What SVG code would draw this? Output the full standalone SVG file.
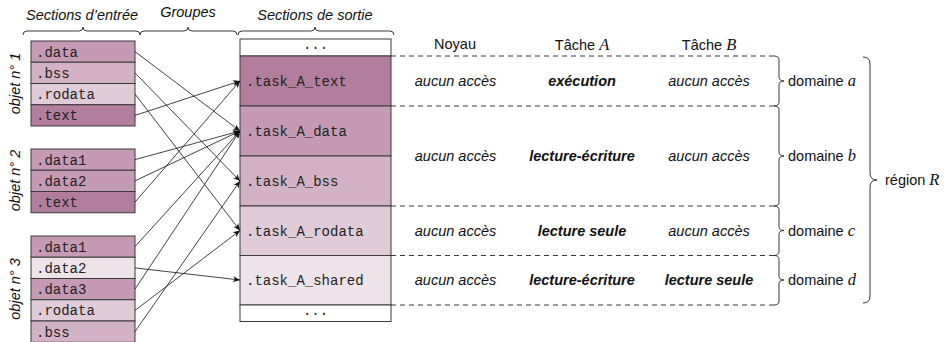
<svg xmlns="http://www.w3.org/2000/svg" width="951" height="342" viewBox="0 0 951 342">
<style>
.bx{stroke:#3a3a3a;stroke-width:1}
.c-text{fill:#b17f9d}
.c-data{fill:#c59ab4}
.c-bss{fill:#d4b2c6}
.c-ro{fill:#e2cbd8}
.c-sh{fill:#efe3ea}
.mono{font-family:"Liberation Mono",monospace;font-size:14px;fill:#222}
.sans{font-family:"Liberation Sans",Arial,sans-serif;font-size:14.5px;fill:#111}
.it{font-style:italic}
.bi{font-style:italic;font-weight:bold}
.math{font-family:"Liberation Serif",serif;font-style:italic;font-size:16.5px}
.dash{stroke:#222;stroke-width:0.9;stroke-dasharray:5 4;fill:none}
.brace{stroke:#222;stroke-width:0.9;fill:none}
.conn line{stroke:#111;stroke-width:0.8;marker-end:url(#ah)}
</style>
<defs>
<marker id="ah" markerUnits="userSpaceOnUse" markerWidth="10" markerHeight="10" viewBox="-8 -4 10 8" refX="0" refY="0" orient="auto">
<path d="M0,0 L-7,-3 L-5,0 L-7,3 z" fill="#111"/>
</marker>
</defs>
<rect width="951" height="342" fill="#fff"/>

<!-- top labels -->
<g id="top-labels">
<text class="sans it" x="82" y="20" text-anchor="middle">Sections d’entrée</text>
<text class="sans it" x="188" y="17" text-anchor="middle">Groupes</text>
<text class="sans it" x="315" y="20" text-anchor="middle">Sections de sortie</text>
<path class="brace" d="M23,35 Q23,31 27,31 L79,31 Q83,31 83,27 Q83,31 87,31 L136,31 Q140,31 140,35"/>
<path class="brace" d="M140,35 Q140,31 144,31 L184,31 Q188,31 188,27 Q188,31 192,31 L233,31 Q237,31 237,35"/>
<path class="brace" d="M238,35 Q238,31 242,31 L311,31 Q315,31 315,27 Q315,31 319,31 L390,31 Q394,31 394,35"/>
</g>

<!-- object labels -->
<g id="obj-labels">
<text class="sans it" transform="translate(20,83.5) rotate(-90)" text-anchor="middle">objet n° 1</text>
<text class="sans it" transform="translate(20,180.5) rotate(-90)" text-anchor="middle">objet n° 2</text>
<text class="sans it" transform="translate(20,289) rotate(-90)" text-anchor="middle">objet n° 3</text>
</g>

<!-- object 1 -->
<g id="obj1">
<rect class="bx c-data" x="31" y="41" width="104" height="21.25"/>
<rect class="bx c-bss" x="31" y="62.25" width="104" height="21.25"/>
<rect class="bx c-ro" x="31" y="83.5" width="104" height="21.25"/>
<rect class="bx c-text" x="31" y="104.75" width="104" height="21.25"/>
<text class="mono" x="36" y="56.5">.data</text>
<text class="mono" x="36" y="77.8">.bss</text>
<text class="mono" x="36" y="99">.rodata</text>
<text class="mono" x="36" y="120.3">.text</text>
</g>

<!-- object 2 -->
<g id="obj2">
<rect class="bx c-data" x="31" y="149" width="104" height="21.25"/>
<rect class="bx c-data" x="31" y="170.25" width="104" height="21.25"/>
<rect class="bx c-text" x="31" y="191.5" width="104" height="21.25"/>
<text class="mono" x="36" y="164.5">.data1</text>
<text class="mono" x="36" y="185.8">.data2</text>
<text class="mono" x="36" y="207">.text</text>
</g>

<!-- object 3 -->
<g id="obj3">
<rect class="bx c-data" x="31" y="236" width="104" height="21.25"/>
<rect class="bx c-sh" x="31" y="257.25" width="104" height="21.25"/>
<rect class="bx c-data" x="31" y="278.5" width="104" height="21.25"/>
<rect class="bx c-ro" x="31" y="299.75" width="104" height="21.25"/>
<rect class="bx c-bss" x="31" y="321" width="104" height="21.25"/>
<text class="mono" x="36" y="251.5">.data1</text>
<text class="mono" x="36" y="272.8">.data2</text>
<text class="mono" x="36" y="294">.data3</text>
<text class="mono" x="36" y="315.3">.rodata</text>
<text class="mono" x="36" y="336.5">.bss</text>
</g>

<!-- output sections -->
<g id="out">
<rect class="bx" fill="#fff" x="240" y="39" width="151" height="17"/>
<rect class="bx c-text" x="240" y="56" width="151" height="50"/>
<rect class="bx c-data" x="240" y="106" width="151" height="50"/>
<rect class="bx c-bss" x="240" y="156" width="151" height="50"/>
<rect class="bx c-ro" x="240" y="206" width="151" height="49.5"/>
<rect class="bx c-sh" x="240" y="255.5" width="151" height="49.5"/>
<rect class="bx" fill="#fff" x="240" y="305" width="151" height="16.5"/>
<text class="mono" x="315.5" y="49" text-anchor="middle">...</text>
<text class="mono" x="246" y="86">.task_A_text</text>
<text class="mono" x="246" y="136">.task_A_data</text>
<text class="mono" x="246" y="186">.task_A_bss</text>
<text class="mono" x="246" y="235.5">.task_A_rodata</text>
<text class="mono" x="246" y="285">.task_A_shared</text>
<text class="mono" x="315.5" y="315" text-anchor="middle">...</text>
</g>

<!-- connectors -->
<g id="connectors" class="conn">
<line x1="135" y1="51.6" x2="240" y2="131"/>
<line x1="135" y1="72.9" x2="240" y2="181"/>
<line x1="135" y1="94.1" x2="240" y2="230.5"/>
<line x1="135" y1="115.4" x2="240" y2="81"/>
<line x1="135" y1="159.6" x2="240" y2="131"/>
<line x1="135" y1="180.9" x2="240" y2="131"/>
<line x1="135" y1="202.1" x2="240" y2="81"/>
<line x1="135" y1="246.6" x2="240" y2="131"/>
<line x1="135" y1="267.9" x2="240" y2="280"/>
<line x1="135" y1="289.1" x2="240" y2="131"/>
<line x1="135" y1="310.4" x2="240" y2="230.5"/>
<line x1="135" y1="331.6" x2="240" y2="181"/>
</g>

<!-- table -->
<g id="table">
<text class="sans" x="455" y="49" text-anchor="middle">Noyau</text>
<text class="sans" x="582" y="50" text-anchor="middle">Tâche <tspan class="math">A</tspan></text>
<text class="sans" x="709" y="50" text-anchor="middle">Tâche <tspan class="math">B</tspan></text>
<line class="dash" x1="391" y1="56" x2="774" y2="56"/>
<line class="dash" x1="391" y1="106" x2="774" y2="106"/>
<line class="dash" x1="391" y1="206" x2="774" y2="206"/>
<line class="dash" x1="391" y1="255.5" x2="774" y2="255.5"/>
<line class="dash" x1="391" y1="305" x2="774" y2="305"/>

<text class="sans it" x="455.5" y="86" text-anchor="middle">aucun accès</text>
<text class="sans bi" x="582" y="86" text-anchor="middle">exécution</text>
<text class="sans it" x="709" y="86" text-anchor="middle">aucun accès</text>

<text class="sans it" x="455.5" y="161" text-anchor="middle">aucun accès</text>
<text class="sans bi" x="582" y="161" text-anchor="middle">lecture-écriture</text>
<text class="sans it" x="709" y="161" text-anchor="middle">aucun accès</text>

<text class="sans it" x="455.5" y="235.5" text-anchor="middle">aucun accès</text>
<text class="sans bi" x="582" y="235.5" text-anchor="middle">lecture seule</text>
<text class="sans it" x="709" y="235.5" text-anchor="middle">aucun accès</text>

<text class="sans it" x="455.5" y="285" text-anchor="middle">aucun accès</text>
<text class="sans bi" x="582" y="285" text-anchor="middle">lecture-écriture</text>
<text class="sans bi" x="709" y="285" text-anchor="middle">lecture seule</text>
</g>

<!-- domain braces -->
<g id="domains">
<path class="brace" d="M774,56 Q779,56 779,60 L779,77 Q779,81 784,81 Q779,81 779,85 L779,102 Q779,106 774,106"/>
<path class="brace" d="M774,106 Q779,106 779,110 L779,152 Q779,156 784,156 Q779,156 779,160 L779,202 Q779,206 774,206"/>
<path class="brace" d="M774,206 Q779,206 779,210 L779,226.5 Q779,230.5 784,230.5 Q779,230.5 779,234.5 L779,251.5 Q779,255.5 774,255.5"/>
<path class="brace" d="M774,255.5 Q779,255.5 779,259.5 L779,276 Q779,280 784,280 Q779,280 779,284 L779,301 Q779,305 774,305"/>
<text class="sans" x="788" y="86">domaine <tspan class="math">a</tspan></text>
<text class="sans" x="788" y="161">domaine <tspan class="math">b</tspan></text>
<text class="sans" x="788" y="235.5">domaine <tspan class="math">c</tspan></text>
<text class="sans" x="788" y="285">domaine <tspan class="math">d</tspan></text>
</g>

<g id="region">
<path class="brace" d="M863,57 Q870,57 870,64 L870,173 Q870,180 877,180 Q870,180 870,187 L870,296 Q870,303 863,303"/>
<text class="sans" x="885" y="185">région <tspan class="math">R</tspan></text>
</g>
</svg>
